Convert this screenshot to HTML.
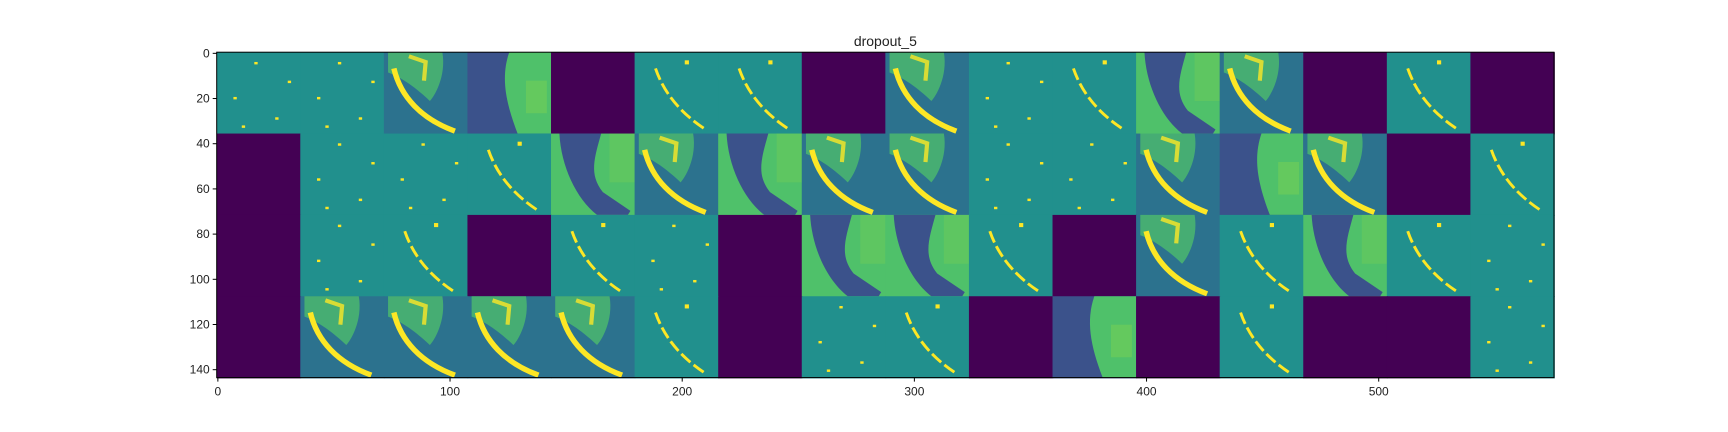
<!DOCTYPE html>
<html><head><meta charset="utf-8"><style>
body{margin:0;background:#fff;width:1728px;height:432px;overflow:hidden}
svg{display:block}
text{font-family:"Liberation Sans","DejaVu Sans",sans-serif;fill:#222}
</style></head><body>
<svg id="chart" width="1728" height="432"></svg>
<script>
const title = "dropout_5";
const xTicks = [0,100,200,300,400,500];
const yTicks = [0,20,40,60,80,100,120,140];
const row0 = ["D","D","Y","B","P","S","S","P","Y","D","S","G","Y","P","S","P"];
const row1 = ["P","D","D","S","G","Y","G","Y","Y","D","D","Y","B","Y","P","S"];
const row2 = ["P","D","S","P","S","D","P","G","G","S","P","Y","S","G","S","D"];
const row3 = ["P","Y","Y","Y","Y","S","P","D","S","P","B","P","S","P","P","D"];
const rows = [row0,row1,row2,row3];
const cellSize = 36;

const NS="http://www.w3.org/2000/svg";
const svg=document.getElementById('chart');
const L=216.7,T=52.2,R=1554,B=377.6;
const nx=576, ny=144;
const sx=v=>L+(v+0.5)*(R-L)/nx;
const sy=v=>T+(v+0.5)*(B-T)/ny;
function mk(tag,attrs,parent){const e=document.createElementNS(NS,tag);for(const k in attrs)e.setAttribute(k,attrs[k]);(parent||svg).appendChild(e);return e;}
const C={P:"#440154",T:"#21908d",DT:"#2c728e",BL:"#3b528b",G:"#4fc16a",LG:"#7ad151",Y:"#fde725"};
const dots=[[0.45,0.12],[0.2,0.55],[0.7,0.8],[0.85,0.35],[0.3,0.9]];
rows.forEach((row,r)=>{
  row.forEach((t,c)=>{
    const x0=sx(c*cellSize-0.5), y0=sy(r*cellSize-0.5);
    const w=sx((c+1)*cellSize-0.5)-x0, h=sy((r+1)*cellSize-0.5)-y0;
    const g=mk('g',{transform:`translate(${x0},${y0}) scale(${w},${h})`});
    
    
    const bg={P:C.P,D:C.T,S:C.T,G:C.G,Y:C.DT,B:C.BL}[t];
    mk('rect',{x:0,y:0,width:1.01,height:1.01,fill:bg},g);
    if(t==="D"){dots.forEach(d=>mk('rect',{x:d[0],y:d[1],width:0.04,height:0.03,fill:C.Y},g));}
    if(t==="S"){mk('path',{d:"M0.25,0.2 C0.35,0.5 0.55,0.75 0.85,0.95",fill:"none",stroke:C.Y,"stroke-width":0.035,"stroke-dasharray":"0.15 0.05"},g);
      mk('rect',{x:0.6,y:0.1,width:0.05,height:0.05,fill:C.Y},g);}
    if(t==="G"){mk('path',{d:"M0.1,0 L0.6,0 C0.52,0.3 0.45,0.5 0.62,0.72 L0.95,0.95 L0.92,1 L0.55,1 C0.3,0.8 0.12,0.4 0.1,0 Z",fill:C.BL},g);
      mk('rect',{x:0.7,y:0,width:0.3,height:0.6,fill:C.LG,opacity:0.35},g);}
    if(t==="Y"){mk('path',{d:"M0.05,0 L0.7,0 C0.75,0.3 0.6,0.55 0.55,0.6 C0.4,0.45 0.2,0.3 0.05,0.25 Z",fill:C.G,opacity:0.75},g);
      mk('path',{d:"M0.12,0.2 C0.2,0.55 0.45,0.82 0.85,0.97",fill:"none",stroke:C.Y,"stroke-width":0.065},g);
      mk('path',{d:"M0.3,0.05 L0.5,0.12 L0.48,0.35",fill:"none",stroke:C.Y,"stroke-width":0.05,opacity:0.8},g);}
    if(t==="B"){mk('path',{d:"M0.5,0 C0.4,0.3 0.45,0.6 0.6,1 L1,1 L1,0 Z",fill:C.G},g);
      mk('rect',{x:0.7,y:0.35,width:0.25,height:0.4,fill:C.LG,opacity:0.5},g);}
  });
});
const frame=mk('rect',{x:L,y:T,width:R-L,height:B-T,fill:"none",stroke:"#000","stroke-width":1});


xTicks.forEach(v=>{
  const x=sx(v);
  const tk=mk('line',{x1:x,x2:x,y1:B,y2:B+4,stroke:"#000"});
  
  
  const tl=mk('text',{x:x,y:B+18,"text-anchor":"middle","font-size":12});
  tl.textContent=v;
  
  
});
yTicks.forEach(v=>{
  const y=sy(v);
  const tk=mk('line',{x1:L-4,x2:L,y1:y,y2:y,stroke:"#000"});
  
  
  const tl=mk('text',{x:L-7,y:y+4,"text-anchor":"end","font-size":12});
  tl.textContent=v;
  
  
});
const tt=mk('text',{x:(L+R)/2,y:46,"text-anchor":"middle","font-size":14});
tt.textContent=title;


</script>
</body></html>
